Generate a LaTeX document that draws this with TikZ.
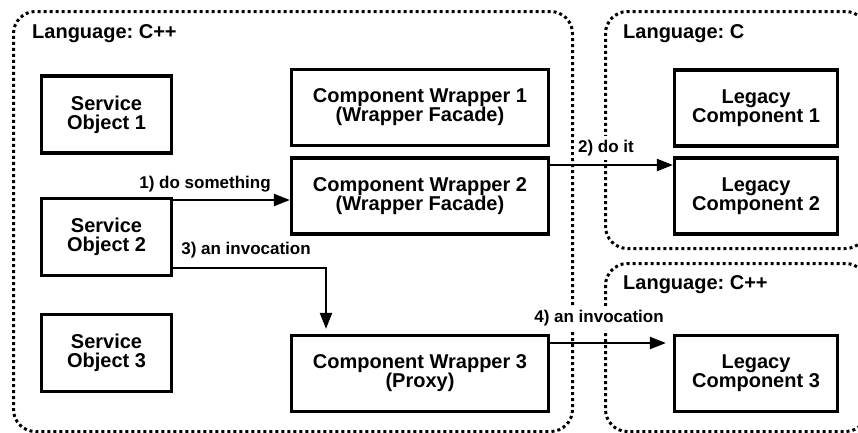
\documentclass[tikz,border=0pt]{standalone}
\usepackage{fontspec}
\setmainfont{Liberation Sans}
\usetikzlibrary{arrows.meta}
\frenchspacing
\begin{document}
\begin{tikzpicture}[x=1pt,y=-1pt,
  region/.style={draw, line width=3pt, dash pattern=on 3pt off 3pt, rounded corners=22pt, inner sep=0pt, anchor=north west},
  box/.style={draw, line width=3.2pt, align=center, inner sep=0pt, font=\bfseries\fontsize{20}{19}\selectfont},
  sbox/.style={box, minimum width=130pt, minimum height=77pt},
  cbox/.style={box, minimum width=257pt, minimum height=76pt},
  lbox/.style={box, minimum width=163pt, minimum height=76pt},
  title/.style={anchor=west, inner sep=0pt, font=\bfseries\fontsize{20}{20}\selectfont},
  lbl/.style={fill=white, inner sep=4pt, font=\bfseries\fontsize{17}{17}\selectfont},
  arr/.style={line width=2.2pt, -{Triangle[length=16pt,width=12pt]}}
]
\useasboundingbox (0,0) rectangle (858,432);
\clip (0,0) rectangle (858,432);
% regions
\node[region, minimum width=559pt, minimum height=420pt] (R1) at (12,10) {};
\node[region, minimum width=262pt, minimum height=237pt] (R2) at (604,10) {};
\node[region, minimum width=262pt, minimum height=168pt] (R3) at (604,262) {};
\node[title] (T1) at (32,34) {Language: C++};
\node[title] (T2) at (623,34) {Language: C};
\node[title] (T3) at (623,285) {Language: C++};
% labels
\node[lbl] (L1) at (205,184) {1) do something};
\node[lbl] (L2) at (606,148) {2) do it};
\node[lbl] (L3) at (246,250) {3) an invocation};
\node[lbl] (L4) at (599,318) {4) an invocation};
% boxes
\node[sbox] (SO1) at (106.5,114.5) {Service\\Object 1};
\node[sbox] (SO2) at (106.5,237) {Service\\Object 2};
\node[sbox] (SO3) at (106.5,353) {Service\\Object 3};
\node[cbox] (CW1) at (420,107.5) {Component Wrapper 1\\(Wrapper Facade)};
\node[cbox] (CW2) at (420,196) {Component Wrapper 2\\(Wrapper Facade)};
\node[cbox] (CW3) at (420,373.5) {Component Wrapper 3\\(Proxy)};
\node[lbox] (LC1) at (756,108) {Legacy\\Component 1};
\node[lbox] (LC2) at (756,196) {Legacy\\Component 2};
\node[lbox] (LC3) at (756,373.5) {Legacy\\Component 3};
% connectors
\coordinate (a1) at (0,200);
\coordinate (a2) at (0,165);
\coordinate (a3) at (0,268);
\coordinate (a3c) at (326,268);
\coordinate (a4) at (0,343);
\draw[arr] (SO2.east |- a1) -- (CW2.west |- a1);
\draw[arr] (CW2.east |- a2) -- (LC2.west |- a2);
\draw[arr, shorten >=5pt] (SO2.east |- a3) -- (a3c) -- (a3c |- CW3.north);
\draw[arr, shorten >=7pt] (CW3.east |- a4) -- (LC3.west |- a4);
\end{tikzpicture}
\end{document}
